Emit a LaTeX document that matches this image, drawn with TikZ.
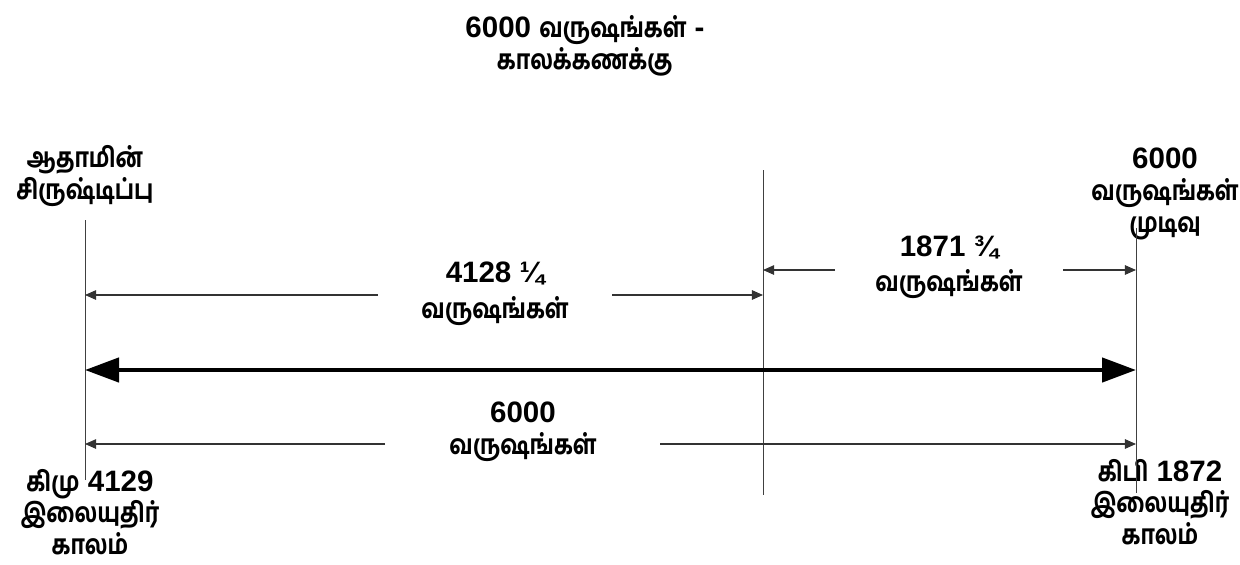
\documentclass[tikz,border=0pt]{standalone}
\usepackage{fontspec}
\setmainfont{Liberation Sans}
\newfontfamily\ta[Script=Tamil,Scale=0.92,FakeStretch=0.82,UprightFont={* Bold},BoldFont={* Bold}]{Hind Madurai}
\usepackage{tikz}
\usetikzlibrary{arrows.meta,positioning}

\tikzset{
	lbl/.style={align=center,font=\fontsize{21}{22.5}\selectfont\bfseries,inner sep=1pt},
	vline/.style={line width=0.6pt,black!75},
	span/.style={line width=0.8pt,black!80,-{Triangle[length=0.28cm,width=0.24cm]}},
	bigspan/.style={line width=3.2pt,{Triangle[length=0.85cm,width=0.6cm]}-{Triangle[length=0.85cm,width=0.6cm]}}
}

\begin{document}
\begin{tikzpicture}
	\useasboundingbox (0,0) rectangle (31,14.1);
	\node[lbl] (t) at (14.625,12.95) {6000 {\ta வருஷங்கள்} -\\{\ta காலக்கணக்கு}};
	\node[lbl] (1) at (2.125,9.7) {{\ta ஆதாமின்}\\{\ta சிருஷ்டிப்பு}};
	\node[lbl] (2) at (29.125,9.25) {6000\\{\ta வருஷங்கள்}\\{\ta முடிவு}};
	\node[lbl] (3) at (2.25,1.3) {{\ta கிமு} 4129\\{\ta இலையுதிர்}\\{\ta காலம்}};
	\node[lbl] (4) at (29.0,1.55) {{\ta கிபி} 1872\\{\ta இலையுதிர்}\\{\ta காலம்}};
	\node[lbl] (5) at (12.375,6.75) {4128 ¼\\[3pt]{\ta வருஷங்கள்}};
	\node[lbl] (6) at (23.725,7.42) {1871 ¾\\[3pt]{\ta வருஷங்கள்}};
	\node[lbl] (7) at (13.075,3.3) {6000\\{\ta வருஷங்கள்}};
	
	% the three marks
	\coordinate (a1) at (2.125,8.6);
	\coordinate (a2) at (2.125,2.1);
	\coordinate (b1) at (19.075,9.85);
	\coordinate (b2) at (19.075,1.725);
	\coordinate (c1) at (28.4,8.4);
	\coordinate (c2) at (28.4,1.775);
	\draw[vline] (a1) -- (a2);
	\draw[vline] (b1) -- (b2);
	\draw[vline] (c1) -- (c2);
	
	% spans
	\coordinate (p1) at (2.125,6.725);
	\coordinate (p2) at (9.45,6.725);
	\coordinate (p3) at (15.3,6.725);
	\coordinate (p4) at (19.075,6.725);
	\draw[span] (p2) -- (p1);
	\draw[span] (p3) -- (p4);
	
	\coordinate (q1) at (19.075,7.35);
	\coordinate (q2) at (20.875,7.35);
	\coordinate (q3) at (26.575,7.35);
	\coordinate (q4) at (28.4,7.35);
	\draw[span] (q2) -- (q1);
	\draw[span] (q3) -- (q4);
	
	\coordinate (r1) at (2.125,4.85);
	\coordinate (r2) at (28.4,4.85);
	\draw[bigspan] (r1) -- (r2);
	
	\coordinate (s1) at (2.125,3.0);
	\coordinate (s2) at (9.625,3.0);
	\coordinate (s3) at (16.5,3.0);
	\coordinate (s4) at (28.4,3.0);
	\draw[span] (s2) -- (s1);
	\draw[span] (s3) -- (s4);
\end{tikzpicture}
\end{document}
